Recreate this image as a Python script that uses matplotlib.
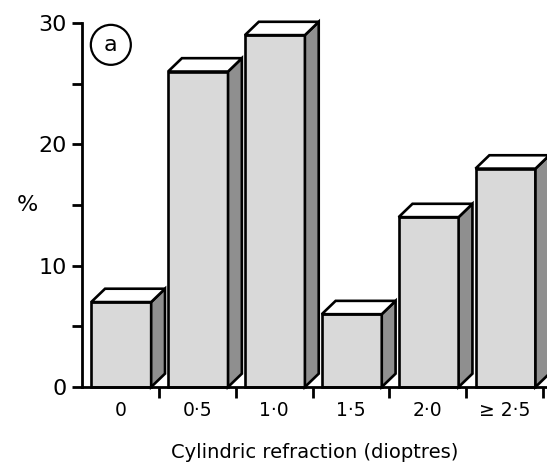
#!/usr/bin/env python3
# -*- coding: utf-8 -*-

"""
Pseudo-3D bar chart of cylindric refraction distribution.
"""

import matplotlib
matplotlib.use("Agg")
import matplotlib.pyplot as plt
from matplotlib.patches import Polygon

# DATA ########################################################################

categories = ["0", "0\u00b75", "1\u00b70", "1\u00b75", "2\u00b70", "\u2265 2\u00b75"]
percent = [7, 26, 29, 6, 14, 18]

# PLOT ########################################################################

front_color = "#d9d9d9"
side_color = "#8f8f8f"
top_color = "white"
edge = "black"
lw = 1.9

dx = 0.18    # depth in x (slot units)
dy = 1.1     # depth in y (percent units)
x_pad = 0.12
width = 0.78

fig = plt.figure(figsize=(5.47, 4.71), dpi=100)
ax = fig.add_axes([82 / 547, 84 / 471, 465 / 547, 364 / 471])

for i, h in enumerate(percent):
    x0 = i + x_pad
    x1 = x0 + width
    ax.bar(x0, h, width=width, align="edge", color=front_color,
           edgecolor=edge, linewidth=lw, zorder=2, clip_on=False)
    side = Polygon([(x1, 0), (x1 + dx, dy), (x1 + dx, h + dy), (x1, h)],
                   closed=True, facecolor=side_color, edgecolor=edge,
                   linewidth=lw, zorder=2, clip_on=False)
    top = Polygon([(x0, h), (x0 + dx, h + dy), (x1 + dx, h + dy), (x1, h)],
                  closed=True, facecolor=top_color, edgecolor=edge,
                  linewidth=lw, zorder=2, clip_on=False)
    ax.add_patch(side)
    ax.add_patch(top)

ax.set_xlim(0, 6.05)
ax.set_ylim(0, 30)

for s in ["top", "right"]:
    ax.spines[s].set_visible(False)
for s in ["left", "bottom"]:
    ax.spines[s].set_linewidth(2.0)
    ax.spines[s].set_zorder(3)

# y ticks
ax.set_yticks([0, 10, 20, 30])
ax.set_yticks([5, 15, 25], minor=True)
ax.tick_params(axis="y", which="both", direction="out", length=7, width=2.0,
               labelsize=16, pad=4)

# x ticks: boundaries as ticks, labels at slot centres
ax.set_xticks(range(1, 7))
ax.set_xticklabels([])
ax.set_xticks([i + 0.5 for i in range(len(categories))], minor=True)
ax.set_xticklabels(categories, minor=True)
ax.tick_params(axis="x", which="major", direction="out", length=8, width=2.0)
ax.tick_params(axis="x", which="minor", length=0, labelsize=13.5, pad=10)

ax.set_ylabel("%", rotation=0, fontsize=16, labelpad=8, va="center")
ax.set_xlabel("Cylindric refraction (dioptres)", fontsize=14, labelpad=17)

ax.annotate("a", xy=(0.062, 0.94), xycoords="axes fraction", fontsize=16,
            ha="center", va="center",
            bbox=dict(boxstyle="circle,pad=0.45", facecolor="white",
                      edgecolor="black", linewidth=1.6))

plt.savefig("out.png", dpi=100)
